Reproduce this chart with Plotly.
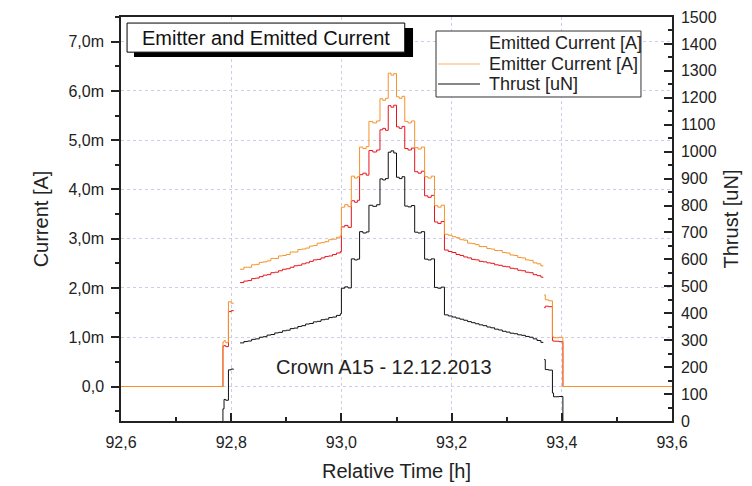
import plotly.graph_objects as go

# ---------------- data ----------------
# baseline + first ignition steps
time_lead = [92.600, 92.785, 92.787, 92.790, 92.795, 92.800, 92.804, 92.805]
emitter_lead = [0.00, 0.90, 0.93, 0.89, 1.72, 1.69, 1.70, None]
emitted_lead = [0.00, 0.82, 0.83, 0.81, 1.52, 1.54, 1.53, None]
thrust_lead = [-40, 45, 80, 77, 190, 193, 191, None]

# slow ramp up
time_up = [92.816, 92.823, 92.830, 92.837, 92.844, 92.851, 92.858, 92.865, 92.872,
           92.879, 92.886, 92.893, 92.900, 92.907, 92.914, 92.921, 92.928, 92.935,
           92.942, 92.949, 92.956, 92.963, 92.970, 92.977, 92.984, 92.991, 92.998]
emitter_up = [2.38, 2.42, 2.42, 2.47, 2.48, 2.52, 2.53, 2.55, 2.60, 2.60, 2.65, 2.66,
              2.68, 2.73, 2.73, 2.78, 2.79, 2.81, 2.85, 2.86, 2.91, 2.92, 2.94, 2.98,
              2.99, 3.03, 3.06]
emitted_up = [2.11, 2.14, 2.15, 2.19, 2.20, 2.23, 2.26, 2.27, 2.31, 2.32, 2.35, 2.38,
              2.39, 2.42, 2.45, 2.46, 2.49, 2.51, 2.54, 2.57, 2.58, 2.61, 2.64, 2.65,
              2.68, 2.71, 2.74]
thrust_up = [290, 295, 297, 303, 305, 311, 313, 319, 321, 327, 329, 335, 337, 343,
             345, 351, 354, 360, 362, 368, 370, 376, 378, 384, 386, 392, 398]

# staircase up to the peak and back down
time_peak = [93.000, 93.006, 93.012, 93.018, 93.024, 93.029, 93.033, 93.039, 93.045,
             93.050, 93.057, 93.064, 93.070, 93.075, 93.080, 93.085, 93.090, 93.095,
             93.100, 93.105, 93.110, 93.115, 93.121, 93.127, 93.133, 93.139, 93.145,
             93.151, 93.157, 93.163, 93.169, 93.175, 93.181]
emitter_peak = [3.64, 3.69, 3.65, 4.27, 4.23, 4.26, 4.86, 4.83, 4.87, 5.38, 5.35, 5.39,
                5.84, 5.81, 5.85, 6.36, 6.32, 6.35, 5.88, 5.85, 5.89, 5.38, 5.35, 5.39,
                4.85, 4.82, 4.86, 4.26, 4.23, 4.27, 3.67, 3.64, 3.68]
emitted_peak = [3.24, 3.27, 3.23, 3.77, 3.74, 3.78, 4.30, 4.33, 4.29, 4.79, 4.76, 4.80,
                5.21, 5.24, 5.20, 5.70, 5.67, 5.71, 5.27, 5.24, 5.28, 4.83, 4.80, 4.84,
                4.36, 4.33, 4.37, 3.87, 3.84, 3.88, 3.34, 3.31, 3.35]
thrust_peak = [493, 498, 494, 602, 598, 601, 703, 698, 702, 801, 797, 803, 899, 895,
               900, 998, 1003, 995, 905, 900, 907, 798, 795, 800, 701, 698, 703, 601,
               598, 602, 496, 493, 497]

# slow ramp down
time_down = [93.187, 93.194, 93.201, 93.208, 93.215, 93.222, 93.229, 93.236, 93.243,
             93.250, 93.257, 93.264, 93.271, 93.278, 93.285, 93.292, 93.299, 93.306,
             93.313, 93.320, 93.327, 93.334, 93.341, 93.348, 93.355, 93.362, 93.366,
             93.367]
emitter_down = [3.09, 3.07, 3.04, 3.02, 2.98, 2.97, 2.91, 2.90, 2.88, 2.84, 2.84, 2.80,
                2.79, 2.76, 2.76, 2.72, 2.71, 2.67, 2.66, 2.62, 2.61, 2.57, 2.56, 2.51,
                2.49, 2.45, 2.44, None]
emitted_down = [2.77, 2.74, 2.72, 2.68, 2.66, 2.63, 2.61, 2.58, 2.57, 2.54, 2.53, 2.51,
                2.50, 2.47, 2.46, 2.44, 2.43, 2.40, 2.39, 2.36, 2.35, 2.32, 2.31, 2.27,
                2.25, 2.22, 2.21, None]
thrust_down = [394, 390, 386, 382, 378, 374, 369, 365, 361, 357, 354, 349, 346, 341,
               338, 333, 330, 326, 324, 320, 318, 314, 311, 305, 299, 292, 290, None]

# last steps + switch-off
time_tail = [93.368, 93.370, 93.376, 93.383, 93.385, 93.395, 93.402, 93.600]
emitter_tail = [1.86, 1.76, 1.74, 1.01, 0.99, 1.00, 0.00, 0.00]
emitted_tail = [1.60, 1.63, 1.62, 0.93, 0.92, 0.91, 0.00, 0.00]
thrust_tail = [228, 191, 189, 104, 90, 91, -40, -40]

time_h = time_lead + time_up + time_peak + time_down + time_tail
emitter_mA = emitter_lead + emitter_up + emitter_peak + emitter_down + emitter_tail
emitted_mA = emitted_lead + emitted_up + emitted_peak + emitted_down + emitted_tail
thrust_uN = thrust_lead + thrust_up + thrust_peak + thrust_down + thrust_tail

current_tick_vals = [0, 1, 2, 3, 4, 5, 6, 7]
current_tick_text = ["0,0", "1,0m", "2,0m", "3,0m", "4,0m", "5,0m", "6,0m", "7,0m"]

series_names = ["Emitted Current [A]", "Emitter Current [A]", "Thrust [uN]"]

# ---------------- styling ----------------
FONT = "Arial, Liberation Sans, sans-serif"
INK = "#222222"
ORANGE = "#f5922a"
RED = "#e8141c"
BLACK = "#111111"
GRID = "#cdcde8"

fig = go.Figure()
fig.add_trace(go.Scatter(x=time_h, y=emitted_mA, mode="lines", name=series_names[0],
                         line=dict(color=RED, width=1, shape="hv"), showlegend=False))
fig.add_trace(go.Scatter(x=time_h, y=emitter_mA, mode="lines", name=series_names[1],
                         line=dict(color=ORANGE, width=1, shape="hv"), showlegend=False))
fig.add_trace(go.Scatter(x=time_h, y=thrust_uN, mode="lines", name=series_names[2], yaxis="y2",
                         line=dict(color=BLACK, width=1, shape="hv"), showlegend=False))

fig.update_layout(
    width=752, height=486,
    margin=dict(l=121, r=80, t=17, b=65, autoexpand=False),
    paper_bgcolor="white", plot_bgcolor="white",
    separators=",.",
    font=dict(family=FONT, color=INK),
    showlegend=False,
    xaxis=dict(range=[92.6, 93.6], tickmode="linear", tick0=92.6, dtick=0.2,
               tickformat=".1f", ticks="inside", ticklen=8, tickwidth=1.5, tickcolor=INK,
               showline=True, linecolor=INK, linewidth=1.5, mirror=True, automargin=False,
               showgrid=True, gridcolor=GRID, griddash="dot", gridwidth=1, zeroline=False,
               minor=dict(dtick=0.1, tick0=92.6, ticks="inside", ticklen=4, tickcolor=INK,
                          tickwidth=1.5, showgrid=False),
               tickfont=dict(size=16, family=FONT, color=INK), ticklabelstandoff=6,
               title=dict(text="Relative Time [h]", font=dict(size=20, family=FONT, color=INK),
                          standoff=14)),
    yaxis=dict(range=[-0.7, 7.5], tickmode="array", tickvals=current_tick_vals,
               ticktext=current_tick_text, ticks="outside", ticklen=8, tickwidth=1.5,
               tickcolor=INK, showline=True, linecolor=INK, linewidth=1.5, automargin=False,
               showgrid=True, gridcolor=GRID, griddash="dot", gridwidth=1, zeroline=False,
               minor=dict(dtick=0.5, tick0=0, ticks="outside", ticklen=4, tickcolor=INK,
                          tickwidth=1.5, showgrid=False),
               tickfont=dict(size=16, family=FONT, color=INK), ticklabelstandoff=4,
               title=dict(text="Current [A]", font=dict(size=20, family=FONT, color=INK),
                          standoff=14)),
    yaxis2=dict(range=[0, 1500], overlaying="y", side="right", tickmode="linear",
                tick0=0, dtick=100, ticks="inside", ticklen=8, tickwidth=1.5, tickcolor=INK,
                showline=True, linecolor=INK, linewidth=1.5, showgrid=False, zeroline=False,
                automargin=False,
                minor=dict(dtick=50, tick0=0, ticks="inside", ticklen=4, tickcolor=INK,
                           tickwidth=1.5, showgrid=False),
                tickfont=dict(size=16, family=FONT, color=INK), ticklabelstandoff=4,
                title=dict(text="Thrust [uN]", font=dict(size=20, family=FONT, color=INK),
                           standoff=8)),
)

# title box with drop shadow
fig.add_shape(type="rect", xref="paper", yref="paper", x0=0.0236, x1=0.530, y0=0.901, y1=0.973,
              fillcolor="black", line=dict(width=0), layer="above")
fig.add_shape(type="rect", xref="paper", yref="paper", x0=0.011, x1=0.515, y0=0.913, y1=0.985,
              fillcolor="white", line=dict(color="black", width=1), layer="above")
fig.add_annotation(xref="paper", yref="paper", x=0.263, y=0.949, text="Emitter and Emitted Current",
                   showarrow=False, xanchor="center", yanchor="middle",
                   font=dict(size=20, family=FONT, color="#111111"))
fig.add_annotation(xref="paper", yref="paper", x=0.477, y=0.134, text="Crown A15 - 12.12.2013",
                   showarrow=False, xanchor="center", yanchor="middle",
                   font=dict(size=20, family=FONT, color=INK))

# legend box (drawn to reproduce the reference's compact legend)
fig.add_shape(type="rect", xref="paper", yref="paper", x0=0.5717, x1=0.9437, y0=0.802, y1=0.9653,
              fillcolor="white", line=dict(color="#333333", width=1), layer="above")
legend_rows = [0.9356, 0.8837, 0.8342]
legend_colors = [None, "#f7b06a", BLACK]
for name, row, col in zip(series_names, legend_rows, legend_colors):
    if col is not None:
        fig.add_shape(type="line", xref="paper", yref="paper", x0=0.5753, x1=0.6515,
                      y0=row, y1=row, line=dict(color=col, width=1.2), layer="above")
    fig.add_annotation(xref="paper", yref="paper", x=0.6642, y=row, text=name,
                       showarrow=False, xanchor="left", yanchor="middle",
                       font=dict(size=18, family=FONT, color=INK))

fig.write_html("out.html", config={"displayModeBar": False},
               post_script="document.body.style.margin='0';")
